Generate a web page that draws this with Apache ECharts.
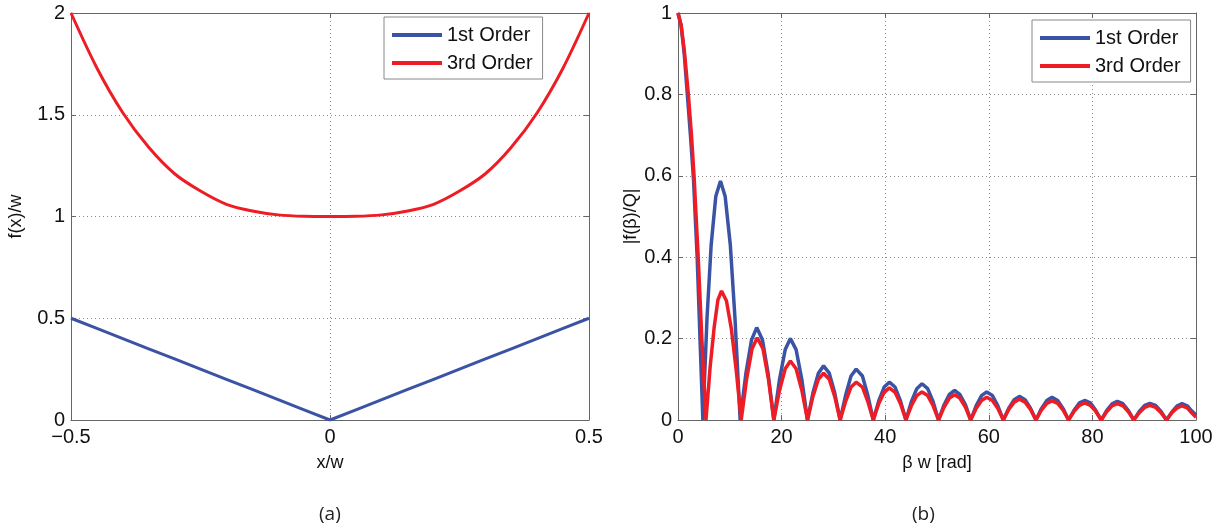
<!DOCTYPE html>
<html>
<head>
<meta charset="utf-8">
<script src="https://cdn.jsdelivr.net/npm/echarts@6/dist/echarts.min.js"></script>
<style>
  html, body { margin: 0; padding: 0; background: #fff; }
  #main { width: 1230px; height: 531px; }
</style>
</head>
<body>
<div id="main"></div>
<script>
var chartDom = document.getElementById('main');
var myChart = echarts.init(chartDom);
var option;

// (a) profile f(x)/w against x/w
var xPos = [-0.5, -0.45, -0.4, -0.35, -0.3, -0.25, -0.2, -0.15, -0.1, -0.05, 0,
    0.05, 0.1, 0.15, 0.2, 0.25, 0.3, 0.35, 0.4, 0.45, 0.5];
var firstOrderProfile = [0.5, 0.45, 0.4, 0.35, 0.3, 0.25, 0.2, 0.15, 0.1, 0.05, 0,
    0.05, 0.1, 0.15, 0.2, 0.25, 0.3, 0.35, 0.4, 0.45, 0.5];
var thirdOrderProfile = [2.0, 1.73, 1.51, 1.34, 1.21, 1.125, 1.06, 1.027, 1.008, 1.001, 1.0,
    1.001, 1.008, 1.027, 1.06, 1.125, 1.21, 1.34, 1.51, 1.73, 2.0];

// (b) spectrum |f(beta)/Q| against beta w
var firstOrderSpec = [
    [0, 1], [0.6, 0.97], [1.2, 0.9], [1.8, 0.8], [2.4, 0.7], [3.0, 0.59], [3.4, 0.48], [3.7, 0.4], [4.25, 0.2], [4.8, 0],
    [5.6, 0.25], [6.4, 0.43], [7.3, 0.55], [8.2, 0.587], [9.1, 0.55], [10.1, 0.43], [11.0, 0.25], [12.0, 0],
    [13.1, 0.114], [14.2, 0.197], [15.2, 0.227], [16.3, 0.197], [17.4, 0.114], [18.5, 0],
    [19.6, 0.1], [20.7, 0.173], [21.7, 0.2], [22.8, 0.173], [23.9, 0.1], [25.0, 0],
    [26.05, 0.067], [27.1, 0.115], [28.1, 0.133], [29.2, 0.115], [30.25, 0.067], [31.3, 0],
    [32.4, 0.063], [33.4, 0.108], [34.4, 0.125], [35.6, 0.108], [36.6, 0.063], [37.7, 0],
    [38.75, 0.047], [39.8, 0.081], [40.8, 0.093], [41.9, 0.081], [42.95, 0.047], [44.0, 0],
    [45.05, 0.045], [46.1, 0.077], [47.1, 0.089], [48.2, 0.077], [49.25, 0.045], [50.3, 0],
    [51.35, 0.037], [52.4, 0.063], [53.4, 0.073], [54.4, 0.063], [55.5, 0.037], [56.5, 0],
    [57.55, 0.035], [58.6, 0.06], [59.6, 0.069], [60.7, 0.06], [61.75, 0.035], [62.8, 0],
    [63.85, 0.029], [64.9, 0.05], [65.9, 0.058], [67.0, 0.05], [68.05, 0.029], [69.1, 0],
    [70.15, 0.028], [71.2, 0.048], [72.2, 0.056], [73.3, 0.048], [74.35, 0.028], [75.4, 0],
    [76.45, 0.024], [77.5, 0.042], [78.5, 0.048], [79.6, 0.042], [80.65, 0.024], [81.7, 0],
    [82.75, 0.023], [83.8, 0.04], [84.8, 0.046], [85.9, 0.04], [86.95, 0.023], [88.0, 0],
    [89.05, 0.021], [90.1, 0.036], [91.1, 0.041], [92.2, 0.036], [93.25, 0.021], [94.3, 0],
    [95.35, 0.02], [96.4, 0.035], [97.3, 0.04], [98.3, 0.035], [99.2, 0.022], [100, 0.012]
];
var thirdOrderSpec = [
    [0, 1], [0.6, 0.97], [1.2, 0.91], [2.0, 0.8], [2.6, 0.7], [3.1, 0.6], [3.5, 0.5], [3.9, 0.4], [4.25, 0.3], [4.6, 0.2], [5.0, 0.1], [5.4, 0],
    [6.2, 0.13], [7.0, 0.23], [7.7, 0.295], [8.4, 0.317], [9.35, 0.293], [10.3, 0.224], [11.25, 0.121], [12.2, 0],
    [13.25, 0.101], [14.3, 0.175], [15.3, 0.202], [16.4, 0.175], [17.45, 0.101], [18.5, 0],
    [19.6, 0.073], [20.7, 0.126], [21.7, 0.145], [22.8, 0.126], [23.9, 0.073], [25.0, 0],
    [26.05, 0.058], [27.1, 0.1], [28.1, 0.115], [29.2, 0.1], [30.25, 0.058], [31.3, 0],
    [32.4, 0.047], [33.4, 0.081], [34.4, 0.093], [35.6, 0.081], [36.6, 0.047], [37.7, 0],
    [38.75, 0.04], [39.8, 0.068], [40.8, 0.079], [41.9, 0.068], [42.95, 0.04], [44.0, 0],
    [45.05, 0.035], [46.1, 0.06], [47.1, 0.069], [48.2, 0.06], [49.25, 0.035], [50.3, 0],
    [51.35, 0.031], [52.4, 0.054], [53.4, 0.062], [54.4, 0.054], [55.5, 0.031], [56.5, 0],
    [57.55, 0.028], [58.6, 0.048], [59.6, 0.056], [60.7, 0.048], [61.75, 0.028], [62.8, 0],
    [63.85, 0.026], [64.9, 0.044], [65.9, 0.051], [67.0, 0.044], [68.05, 0.026], [69.1, 0],
    [70.15, 0.024], [71.2, 0.041], [72.2, 0.047], [73.3, 0.041], [74.35, 0.024], [75.4, 0],
    [76.45, 0.021], [77.5, 0.036], [78.5, 0.042], [79.6, 0.036], [80.65, 0.021], [81.7, 0],
    [82.75, 0.02], [83.8, 0.035], [84.8, 0.04], [85.9, 0.035], [86.95, 0.02], [88.0, 0],
    [89.05, 0.018], [90.1, 0.031], [91.1, 0.036], [92.2, 0.031], [93.25, 0.018], [94.3, 0],
    [95.35, 0.018], [96.4, 0.03], [97.3, 0.035], [98.3, 0.03], [99.2, 0.017], [100, 0.007]
];

var seriesNames = ['1st Order', '3rd Order'];
var blue = '#3b53a4';
var red = '#ee1d25';
var font = '"Liberation Sans", Arial, sans-serif';

function minusSign(v) {
    return String(v).replace('-', '\u2212');
}

var gridLine = { show: true, lineStyle: { color: '#8a8a8a', type: [1, 3], width: 1 } };
var boxLine = { show: true, onZero: false, lineStyle: { color: '#666', width: 1 } };
var tickLabel = { color: '#111', fontSize: 20, fontFamily: font, formatter: minusSign };
var tickIn = { show: true, inside: true, length: 5, lineStyle: { color: '#666' } };
var nameStyle = { fontSize: 18, color: '#111', fontFamily: font };

// helper axes that close the box on top and right with inward ticks
function topAxis(grid, min, max, interval) {
    return { type: 'value', gridIndex: grid, position: 'top', min: min, max: max, interval: interval,
        axisLine: boxLine, axisTick: tickIn, axisLabel: { show: false }, splitLine: { show: false } };
}
function rightAxis(grid, min, max, interval) {
    return { type: 'value', gridIndex: grid, position: 'right', min: min, max: max, interval: interval,
        axisLine: boxLine, axisTick: tickIn, axisLabel: { show: false }, splitLine: { show: false } };
}

var legendBase = {
    orient: 'vertical',
    data: seriesNames,
    icon: 'rect',
    itemWidth: 50,
    itemHeight: 4,
    itemGap: 8,
    padding: [8, 10, 6, 8],
    backgroundColor: '#fff',
    borderColor: '#888',
    borderWidth: 1,
    borderRadius: 0,
    textStyle: { fontSize: 20, color: '#111', fontFamily: font }
};

option = {
    backgroundColor: '#fff',
    animation: false,
    grid: [
        { left: 71, top: 13, width: 518, height: 407 },
        { left: 678, top: 13, width: 518, height: 407 }
    ],
    legend: [
        Object.assign({ left: 384, top: 17 }, legendBase),
        Object.assign({ left: 1032, top: 20 }, legendBase)
    ],
    xAxis: [
        {
            type: 'value', gridIndex: 0, min: -0.5, max: 0.5, interval: 0.5,
            name: 'x/w', nameLocation: 'middle', nameGap: 34, nameTextStyle: nameStyle,
            axisLine: boxLine, axisTick: tickIn, axisLabel: Object.assign({ margin: 7 }, tickLabel),
            splitLine: gridLine
        },
        topAxis(0, -0.5, 0.5, 0.5),
        {
            type: 'value', gridIndex: 1, min: 0, max: 100, interval: 20,
            name: '\u03b2 w [rad]', nameLocation: 'middle', nameGap: 34, nameTextStyle: nameStyle,
            axisLine: boxLine, axisTick: tickIn, axisLabel: Object.assign({ margin: 7 }, tickLabel),
            splitLine: gridLine
        },
        topAxis(1, 0, 100, 20)
    ],
    yAxis: [
        {
            type: 'value', gridIndex: 0, min: 0, max: 2, interval: 0.5,
            name: 'f(x)/w', nameLocation: 'middle', nameGap: 46, nameTextStyle: nameStyle,
            axisLine: boxLine, axisTick: tickIn, axisLabel: Object.assign({ margin: 6 }, tickLabel),
            splitLine: gridLine
        },
        rightAxis(0, 0, 2, 0.5),
        {
            type: 'value', gridIndex: 1, min: 0, max: 1, interval: 0.2,
            name: '|f(\u03b2)/Q|', nameLocation: 'middle', nameGap: 36, nameTextStyle: nameStyle,
            axisLine: boxLine, axisTick: tickIn, axisLabel: Object.assign({ margin: 6 }, tickLabel),
            splitLine: gridLine
        },
        rightAxis(1, 0, 1, 0.2)
    ],
    graphic: [
        { type: 'text', left: 319, top: 505, style: { text: '(a)', fontSize: 19, fill: '#222', fontFamily: '"Open Sans", sans-serif' } },
        { type: 'text', left: 912, top: 505, style: { text: '(b)', fontSize: 19, fill: '#222', fontFamily: '"Open Sans", sans-serif' } }
    ],
    series: [
        {
            name: seriesNames[0], type: 'line', xAxisIndex: 0, yAxisIndex: 0,
            data: xPos.map(function (x, i) { return [x, firstOrderProfile[i]]; }),
            showSymbol: false, lineStyle: { color: blue, width: 3 }, itemStyle: { color: blue }
        },
        {
            name: seriesNames[1], type: 'line', xAxisIndex: 0, yAxisIndex: 0, smooth: 0.3,
            data: xPos.map(function (x, i) { return [x, thirdOrderProfile[i]]; }),
            showSymbol: false, lineStyle: { color: red, width: 3 }, itemStyle: { color: red }
        },
        {
            name: seriesNames[0], type: 'line', xAxisIndex: 2, yAxisIndex: 2,
            data: firstOrderSpec,
            showSymbol: false, lineStyle: { color: blue, width: 3.5 }, itemStyle: { color: blue }
        },
        {
            name: seriesNames[1], type: 'line', xAxisIndex: 2, yAxisIndex: 2,
            data: thirdOrderSpec,
            showSymbol: false, lineStyle: { color: red, width: 3.5 }, itemStyle: { color: red }
        }
    ]
};

option && myChart.setOption(option);
</script>
</body>
</html>
